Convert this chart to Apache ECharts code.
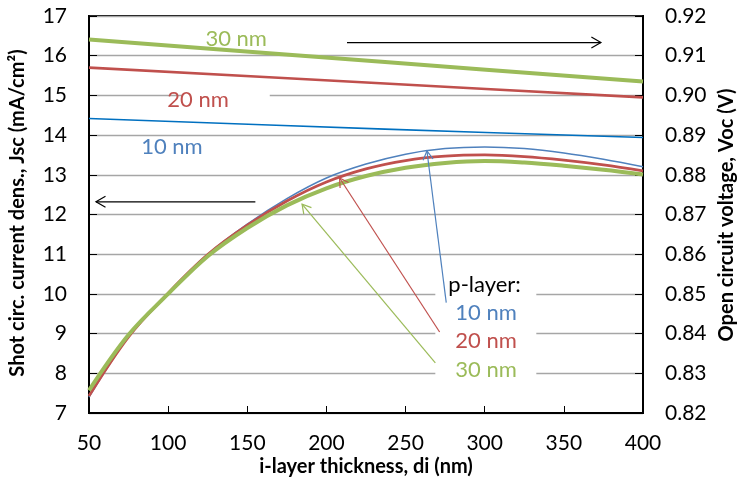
<!DOCTYPE html>
<html>
<head>
<meta charset="utf-8">
<script src="https://cdn.jsdelivr.net/npm/echarts@6/dist/echarts.min.js"></script>
<style>
  html, body { margin: 0; padding: 0; background: #fff; }
  #chart { width: 739px; height: 486px; }
</style>
</head>
<body>
<div id="chart"></div>
<script>
// i-layer thickness (nm) at which Jsc was sampled
const thickness = [50, 75, 100, 125, 150, 175, 200, 225, 250, 275, 300, 325, 350, 375, 400];
// Short-circuit current density Jsc (mA/cm2) for p-layer 10 / 20 / 30 nm
const jsc10 = [7.40, 8.92, 10.03, 11.00, 11.76, 12.40, 12.92, 13.27, 13.52, 13.66, 13.70, 13.66, 13.55, 13.39, 13.20];
const jsc20 = [7.43, 8.92, 10.02, 10.99, 11.73, 12.34, 12.82, 13.15, 13.36, 13.47, 13.50, 13.46, 13.37, 13.25, 13.10];
const jsc30 = [7.57, 8.97, 10.00, 10.95, 11.66, 12.23, 12.66, 12.97, 13.18, 13.30, 13.35, 13.31, 13.23, 13.13, 13.01];

// Open-circuit voltage Voc (V) for p-layer 10 / 20 / 30 nm
const vocThickness = [50, 237, 400];
const voc10 = [0.8942, 0.8915, 0.8894];
const voc20 = [0.9070, 0.9030, 0.8995];
const voc30 = [0.9141, 0.9084, 0.9035];

// Axis ranges and tick steps
const xTicks = { min: 50, max: 400, step: 50 };
const jscTicks = { min: 7, max: 17, step: 1 };
const vocTicks = { min: 0.82, max: 0.92, step: 0.01 };

const FONT = 'Lato, "Open Sans", sans-serif';
const C10 = '#4f81bd', C10V = '#0070c0', C20 = '#c0504d', C30 = '#9bbb59';

const pairs = (xs, ys) => xs.map((x, i) => [x, ys[i]]);

const chart = echarts.init(document.getElementById('chart'), null, { renderer: 'canvas' });

const tickLabel = { color: '#000', fontFamily: FONT, fontSize: 21 };

const curve = (name, axis, xs, ys, color, width, z) => ({
  name, type: 'line', yAxisIndex: axis, data: pairs(xs, ys),
  smooth: 0.35, showSymbol: false,
  lineStyle: { color, width }, z
});

chart.setOption({
  backgroundColor: '#fff',
  animation: false,
  grid: { left: 89, right: 96, top: 16, bottom: 73, show: true, borderColor: '#000', borderWidth: 2, backgroundColor: 'transparent' },
  xAxis: {
    type: 'value', min: xTicks.min, max: xTicks.max, interval: xTicks.step,
    axisLine: { show: true, lineStyle: { color: '#000', width: 2 } },
    axisTick: { show: true, inside: true, length: 7, lineStyle: { color: '#000', width: 1 } },
    axisLabel: Object.assign({ margin: 20 }, tickLabel),
    splitLine: { show: false }
  },
  yAxis: [
    {
      type: 'value', min: jscTicks.min, max: jscTicks.max, interval: jscTicks.step,
      axisLine: { show: true, lineStyle: { color: '#000', width: 2 } },
      axisTick: { show: true, inside: true, length: 8, lineStyle: { color: '#000', width: 1 } },
      axisLabel: Object.assign({ margin: 22 }, tickLabel),
      splitLine: { show: true, lineStyle: { color: '#a6a6a6', width: 1.3 } }
    },
    {
      type: 'value', position: 'right', min: vocTicks.min, max: vocTicks.max, interval: vocTicks.step,
      axisLine: { show: true, lineStyle: { color: '#000', width: 2 } },
      axisTick: { show: true, inside: true, length: 8, lineStyle: { color: '#000', width: 1 } },
      axisLabel: Object.assign({ margin: 22, formatter: v => v.toFixed(2) }, tickLabel),
      splitLine: { show: false }
    }
  ],
  series: [
    curve('Voc 10 nm', 1, vocThickness, voc10, C10V, 1.6, 3),
    curve('Voc 20 nm', 1, vocThickness, voc20, C20, 2.6, 3),
    curve('Voc 30 nm', 1, vocThickness, voc30, C30, 4, 3),
    curve('Jsc 10 nm', 0, thickness, jsc10, C10, 1.5, 3),
    curve('Jsc 20 nm', 0, thickness, jsc20, C20, 2.8, 4),
    curve('Jsc 30 nm', 0, thickness, jsc30, C30, 4, 5)
  ]
});

// Annotations, placed in Jsc data units and converted to pixels
const toPx = (x, y) => chart.convertToPixel({ xAxisIndex: 0, yAxisIndex: 0 }, [x, y]);

const arrows = [
  { from: [155.1, 12.32], to: [54.4, 12.32], color: '#000', head: 11 },
  { from: [213.0, 16.33], to: [373.4, 16.33], color: '#000', head: 11 },
  { from: [275.7, 9.78], to: [263.5, 13.60], color: C10, head: 10 },
  { from: [271.5, 9.04], to: [208.3, 12.92], color: C20, head: 10 },
  { from: [268.8, 8.26], to: [184.6, 12.26], color: C30, head: 10 }
];

const graphics = [];

// White panels behind the text labels
function panel(x0, y0, x1, y1) {
  const a = toPx(x0, y0), b = toPx(x1, y1);
  graphics.push({ type: 'rect', z: 1, shape: { x: a[0], y: a[1], width: b[0] - a[0], height: b[1] - a[1] }, style: { fill: '#fff' } });
}
panel(108.9, 15.08, 164.2, 14.65);
panel(268.8, 10.73, 332.6, 7.71);

arrows.forEach(a => {
  const p = toPx(a.from[0], a.from[1]), q = toPx(a.to[0], a.to[1]);
  const dx = q[0] - p[0], dy = q[1] - p[1];
  const len = Math.hypot(dx, dy), ux = dx / len, uy = dy / len;
  const ang = Math.PI / 6;
  const h = a.head;
  const w1 = [q[0] - h * (ux * Math.cos(ang) - uy * Math.sin(ang)), q[1] - h * (uy * Math.cos(ang) + ux * Math.sin(ang))];
  const w2 = [q[0] - h * (ux * Math.cos(ang) + uy * Math.sin(ang)), q[1] - h * (uy * Math.cos(ang) - ux * Math.sin(ang))];
  graphics.push({ type: 'line', z: 10, shape: { x1: p[0], y1: p[1], x2: q[0], y2: q[1] }, style: { stroke: a.color, lineWidth: 1.2 } });
  graphics.push({ type: 'polyline', z: 10, shape: { points: [w1, q, w2] }, style: { stroke: a.color, lineWidth: 1.2, fill: null } });
});

const notes = [
  { at: [143.0, 16.43], text: '30 nm', color: C30, align: 'center' },
  { at: [118.9, 14.88], text: '20 nm', color: C20, align: 'center' },
  { at: [102.4, 13.70], text: '10 nm', color: C10, align: 'center' },
  { at: [277.0, 10.23], text: 'p-layer:', color: '#000', align: 'left' },
  { at: [281.4, 9.52], text: '10 nm', color: C10, align: 'left' },
  { at: [281.4, 8.81], text: '20 nm', color: C20, align: 'left' },
  { at: [281.4, 8.09], text: '30 nm', color: C30, align: 'left' }
];
notes.forEach(n => {
  const p = toPx(n.at[0], n.at[1]);
  graphics.push({ type: 'text', z: 11, x: p[0], y: p[1], style: { text: n.text, fill: n.color, font: '22px ' + FONT, align: n.align, verticalAlign: 'middle' } });
});

// Axis titles
const titleFont = 'bold 20px ' + FONT;
graphics.push({ type: 'text', z: 11, x: 18, y: 213, rotation: Math.PI / 2, style: { text: 'Shot circ. current dens., Jsc (mA/cm²)', fill: '#000', font: titleFont, align: 'center', verticalAlign: 'middle' } });
graphics.push({ type: 'text', z: 11, x: 727, y: 215, rotation: Math.PI / 2, style: { text: 'Open circuit voltage, Voc (V)', fill: '#000', font: titleFont, align: 'center', verticalAlign: 'middle' } });
graphics.push({ type: 'text', z: 11, x: 366, y: 467, style: { text: 'i-layer thickness, di (nm)', fill: '#000', font: titleFont, align: 'center', verticalAlign: 'middle' } });

chart.setOption({ graphic: graphics });
</script>
</body>
</html>
